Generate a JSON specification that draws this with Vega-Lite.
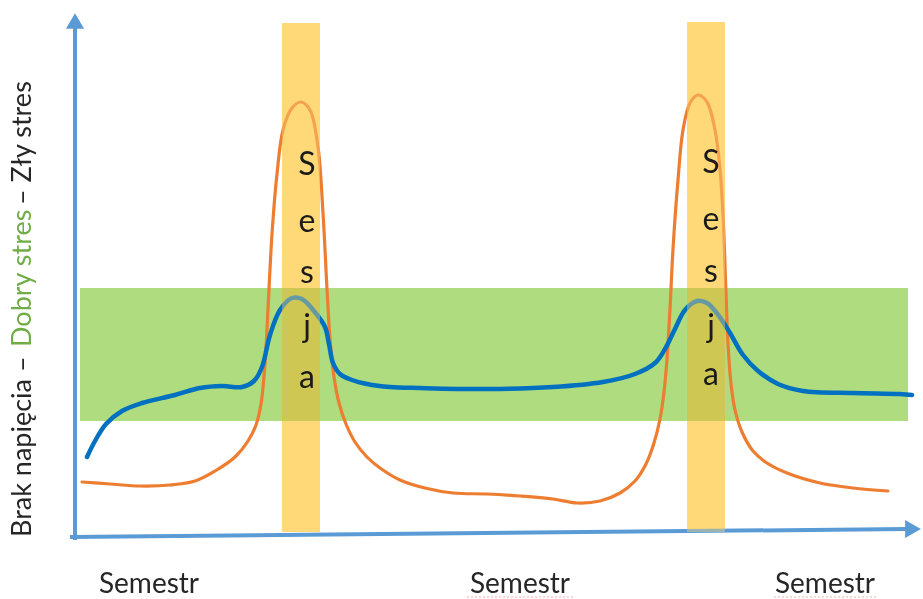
{
  "$schema": "https://vega.github.io/schema/vega-lite/v6.json",
  "width": 923,
  "height": 599,
  "autosize": {"type": "none"},
  "padding": 0,
  "background": "white",
  "config": {"view": {"stroke": null}},
  "datasets": {
    "orange": [
      {"x": 82, "y": 117}, {"x": 110, "y": 115}, {"x": 140, "y": 113}, {"x": 170, "y": 114}, {"x": 195, "y": 118},
      {"x": 215, "y": 128}, {"x": 235, "y": 142}, {"x": 248, "y": 158}, {"x": 256, "y": 174}, {"x": 261, "y": 195},
      {"x": 265, "y": 235}, {"x": 268, "y": 290}, {"x": 272, "y": 365}, {"x": 277, "y": 425}, {"x": 283, "y": 469},
      {"x": 292, "y": 491}, {"x": 301, "y": 497}, {"x": 310, "y": 489}, {"x": 318, "y": 452}, {"x": 323, "y": 386},
      {"x": 327, "y": 310}, {"x": 330, "y": 260}, {"x": 334, "y": 222}, {"x": 339, "y": 196}, {"x": 346, "y": 175},
      {"x": 355, "y": 157}, {"x": 367, "y": 142}, {"x": 380, "y": 131}, {"x": 400, "y": 119}, {"x": 425, "y": 111},
      {"x": 453, "y": 106}, {"x": 487, "y": 105}, {"x": 520, "y": 103}, {"x": 553, "y": 100}, {"x": 577, "y": 96},
      {"x": 600, "y": 98}, {"x": 620, "y": 106}, {"x": 635, "y": 118}, {"x": 646, "y": 135}, {"x": 654, "y": 156},
      {"x": 660, "y": 180}, {"x": 664, "y": 207}, {"x": 667, "y": 240}, {"x": 670, "y": 290}, {"x": 673, "y": 350},
      {"x": 678, "y": 419}, {"x": 683, "y": 469}, {"x": 690, "y": 496}, {"x": 698, "y": 504}, {"x": 707, "y": 497},
      {"x": 715, "y": 469}, {"x": 720, "y": 430}, {"x": 723, "y": 385}, {"x": 726, "y": 305}, {"x": 728, "y": 255},
      {"x": 731, "y": 215}, {"x": 735, "y": 189}, {"x": 742, "y": 167}, {"x": 753, "y": 148}, {"x": 767, "y": 136},
      {"x": 787, "y": 126}, {"x": 820, "y": 116}, {"x": 853, "y": 111}, {"x": 888, "y": 108}
    ],
    "blue": [
      {"x": 87, "y": 142}, {"x": 95, "y": 158}, {"x": 106, "y": 175}, {"x": 122, "y": 188}, {"x": 142, "y": 196},
      {"x": 175, "y": 204}, {"x": 200, "y": 211}, {"x": 222, "y": 213}, {"x": 242, "y": 212}, {"x": 254, "y": 218},
      {"x": 262, "y": 232}, {"x": 270, "y": 264}, {"x": 280, "y": 289}, {"x": 292, "y": 301}, {"x": 302, "y": 300},
      {"x": 314, "y": 288}, {"x": 325, "y": 272}, {"x": 329, "y": 255}, {"x": 333, "y": 236}, {"x": 340, "y": 225},
      {"x": 352, "y": 219}, {"x": 367, "y": 215}, {"x": 390, "y": 212}, {"x": 420, "y": 211}, {"x": 487, "y": 210},
      {"x": 553, "y": 212}, {"x": 603, "y": 217}, {"x": 635, "y": 225}, {"x": 655, "y": 236}, {"x": 665, "y": 250},
      {"x": 674, "y": 268}, {"x": 685, "y": 289}, {"x": 697, "y": 298}, {"x": 707, "y": 296}, {"x": 719, "y": 283},
      {"x": 730, "y": 266}, {"x": 743, "y": 244}, {"x": 758, "y": 228}, {"x": 778, "y": 215}, {"x": 803, "y": 208},
      {"x": 853, "y": 206}, {"x": 900, "y": 205}, {"x": 912, "y": 204}
    ],
    "band": [{"x": 80, "x2": 908, "y": 178, "y2": 311}],
    "bars": [
      {"x": 282, "x2": 320, "y": 67, "y2": 576},
      {"x": 687, "x2": 725, "y": 67, "y2": 577}
    ],
    "axes": [
      {"x": 75, "y": 59, "x2": 75, "y2": 572},
      {"x": 70, "y": 62, "x2": 908, "y2": 70}
    ],
    "arrowUp": [{"x": 75, "y": 578}],
    "arrowRight": [{"x": 913, "y": 70}],
    "letters": [
      {"x": 307, "y": 434, "t": "S"}, {"x": 307, "y": 377, "t": "e"}, {"x": 307, "y": 326, "t": "s"},
      {"x": 307, "y": 272, "t": "j"}, {"x": 307, "y": 221, "t": "a"},
      {"x": 711, "y": 436, "t": "S"}, {"x": 711, "y": 379, "t": "e"}, {"x": 711, "y": 327, "t": "s"},
      {"x": 711, "y": 272, "t": "j"}, {"x": 711, "y": 224, "t": "a"}
    ],
    "labels": [
      {"x": 149, "y": 14, "t": "Semestr"},
      {"x": 520, "y": 14, "t": "Semestr"},
      {"x": 825, "y": 14, "t": "Semestr"}
    ],
    "squiggle": [
      {"x": 467, "x2": 574, "y": 2},
      {"x": 774, "x2": 876, "y": 2}
    ],
    "ytitle": [
      {"x": 23, "y": 62, "t": "Brak napięcia –", "c": "dark"},
      {"x": 23, "y": 252, "t": "Dobry stres", "c": "green"},
      {"x": 23, "y": 394, "t": "– Zły stres", "c": "dark"}
    ]
  },
  "layer": [
    {
      "data": {"name": "bars"},
      "mark": {"type": "rect", "color": "#FFD978"},
      "encoding": {
        "x": {"field": "x", "type": "quantitative", "scale": {"domain": [0, 923]}, "axis": null},
        "x2": {"field": "x2"},
        "y": {"field": "y", "type": "quantitative", "scale": {"domain": [0, 599]}, "axis": null},
        "y2": {"field": "y2"}
      }
    },
    {
      "data": {"name": "band"},
      "mark": {"type": "rect", "color": "#AEDC7E", "blend": "multiply"},
      "encoding": {
        "x": {"field": "x", "type": "quantitative", "scale": {"domain": [0, 923]}, "axis": null},
        "x2": {"field": "x2"},
        "y": {"field": "y", "type": "quantitative", "scale": {"domain": [0, 599]}, "axis": null},
        "y2": {"field": "y2"}
      }
    },
    {
      "data": {"name": "axes"},
      "mark": {"type": "rule", "color": "#5B9BD5", "strokeWidth": 4},
      "encoding": {
        "x": {"field": "x", "type": "quantitative", "scale": {"domain": [0, 923]}, "axis": null},
        "x2": {"field": "x2"},
        "y": {"field": "y", "type": "quantitative", "scale": {"domain": [0, 599]}, "axis": null},
        "y2": {"field": "y2"}
      }
    },
    {
      "data": {"name": "arrowUp"},
      "mark": {"type": "point", "shape": "triangle-up", "filled": true, "opacity": 1, "color": "#5B9BD5", "size": 330},
      "encoding": {
        "x": {"field": "x", "type": "quantitative", "scale": {"domain": [0, 923]}, "axis": null},
        "y": {"field": "y", "type": "quantitative", "scale": {"domain": [0, 599]}, "axis": null}
      }
    },
    {
      "data": {"name": "arrowRight"},
      "mark": {"type": "point", "shape": "triangle-right", "filled": true, "opacity": 1, "color": "#5B9BD5", "size": 330},
      "encoding": {
        "x": {"field": "x", "type": "quantitative", "scale": {"domain": [0, 923]}, "axis": null},
        "y": {"field": "y", "type": "quantitative", "scale": {"domain": [0, 599]}, "axis": null}
      }
    },
    {
      "data": {"name": "orange"},
      "mark": {"type": "line", "color": "#ED7D31", "strokeWidth": 3.2, "interpolate": "catmull-rom", "strokeCap": "round"},
      "encoding": {
        "x": {"field": "x", "type": "quantitative", "scale": {"domain": [0, 923]}, "axis": null},
        "y": {"field": "y", "type": "quantitative", "scale": {"domain": [0, 599]}, "axis": null}
      }
    },
    {
      "data": {"name": "blue"},
      "mark": {"type": "line", "color": "#0070C0", "strokeWidth": 4.5, "interpolate": "catmull-rom", "strokeCap": "round"},
      "encoding": {
        "x": {"field": "x", "type": "quantitative", "scale": {"domain": [0, 923]}, "axis": null},
        "y": {"field": "y", "type": "quantitative", "scale": {"domain": [0, 599]}, "axis": null}
      }
    },
    {
      "data": {"name": "bars"},
      "mark": {"type": "rect", "color": "#FFD978", "opacity": 0.4},
      "encoding": {
        "x": {"field": "x", "type": "quantitative", "scale": {"domain": [0, 923]}, "axis": null},
        "x2": {"field": "x2"},
        "y": {"field": "y", "type": "quantitative", "scale": {"domain": [0, 599]}, "axis": null},
        "y2": {"field": "y2"}
      }
    },
    {
      "data": {"name": "letters"},
      "mark": {"type": "text", "font": "Lato", "fontSize": 32, "color": "#1a1a1a", "align": "center", "baseline": "middle"},
      "encoding": {
        "x": {"field": "x", "type": "quantitative", "scale": {"domain": [0, 923]}, "axis": null},
        "y": {"field": "y", "type": "quantitative", "scale": {"domain": [0, 599]}, "axis": null},
        "text": {"field": "t"}
      }
    },
    {
      "data": {"name": "labels"},
      "mark": {"type": "text", "font": "Lato", "fontSize": 28, "color": "#262626", "align": "center", "baseline": "middle"},
      "encoding": {
        "x": {"field": "x", "type": "quantitative", "scale": {"domain": [0, 923]}, "axis": null},
        "y": {"field": "y", "type": "quantitative", "scale": {"domain": [0, 599]}, "axis": null},
        "text": {"field": "t"}
      }
    },
    {
      "data": {"name": "squiggle"},
      "mark": {"type": "rule", "color": "#F08080", "strokeWidth": 1.2, "strokeDash": [2, 2], "opacity": 0.6},
      "encoding": {
        "x": {"field": "x", "type": "quantitative", "scale": {"domain": [0, 923]}, "axis": null},
        "x2": {"field": "x2"},
        "y": {"field": "y", "type": "quantitative", "scale": {"domain": [0, 599]}, "axis": null}
      }
    },
    {
      "data": {"name": "ytitle"},
      "mark": {"type": "text", "font": "Lato", "fontSize": 27, "angle": 270, "align": "left", "baseline": "middle"},
      "encoding": {
        "x": {"field": "x", "type": "quantitative", "scale": {"domain": [0, 923]}, "axis": null},
        "y": {"field": "y", "type": "quantitative", "scale": {"domain": [0, 599]}, "axis": null},
        "text": {"field": "t"},
        "color": {"field": "c", "type": "nominal", "scale": {"domain": ["dark", "green"], "range": ["#262626", "#70AD47"]}, "legend": null}
      }
    }
  ]
}
